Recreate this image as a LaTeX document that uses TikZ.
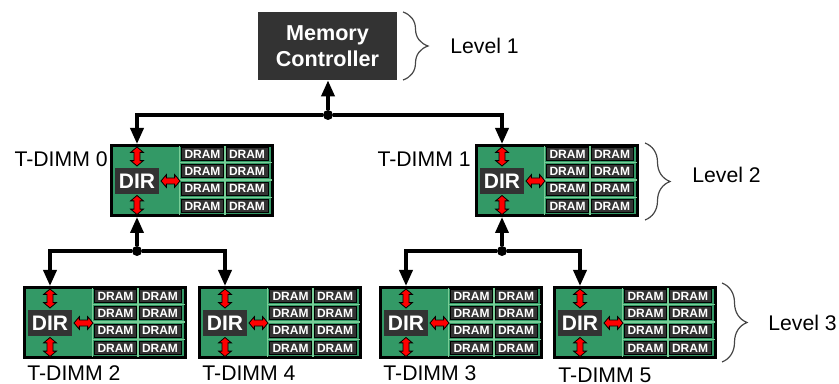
\documentclass[tikz,border=0pt]{standalone}
\usepackage{fontspec}
\setmainfont{Liberation Sans}
\usetikzlibrary{arrows.meta,shapes.arrows,decorations.pathreplacing}

\definecolor{boardgreen}{RGB}{51,153,102}
\definecolor{gridgreen}{RGB}{120,205,150}
\definecolor{chipgray}{RGB}{51,51,51}
\definecolor{bracegray}{RGB}{70,70,70}

\begin{document}
\begin{tikzpicture}[x=0.5pt,y=-0.5pt]
\tikzset{ >={Triangle[length=8pt,width=6.5pt]},
  mcbox/.style={fill=chipgray, text=white, font=\bfseries\fontsize{10.8}{13}\selectfont, align=center, minimum width=69.5pt, minimum height=34pt, inner sep=0pt},
  board/.style={fill=boardgreen, draw=black, line width=1.3pt, minimum width=80.7pt, minimum height=35.2pt, inner sep=0pt},
  gridline/.style={draw=gridgreen, line width=0.7pt},
  dirbox/.style={fill=chipgray, text=white, font=\bfseries\fontsize{10.5}{12}\selectfont, minimum width=22pt, minimum height=13pt, inner sep=0pt},
  dram/.style={fill=chipgray, draw=black, line width=0.5pt, text=white, font=\bfseries\fontsize{6}{6}\selectfont, minimum width=21pt, minimum height=6.5pt, inner sep=0pt},
  redarrow/.style={double arrow, fill=red, draw=black, line width=0.4pt, minimum height=9.5pt, double arrow head extend=1.7pt, double arrow tip angle=100, inner sep=1.3pt},
  link/.style={line width=1.8pt, ->},
  dot/.style={circle, fill=black, minimum size=5pt, inner sep=0pt},
  dimmname/.style={font=\fontsize{10.6}{12}\selectfont, inner sep=0pt},
  lvlbrace/.style={draw=bracegray, line width=0.6pt, decorate, decoration={brace, amplitude=12.5pt}},
}
\useasboundingbox (0,0) rectangle (839,384);
%\draw [lightgray, dashed](0,0) grid[step=20] (839,384);

\node [mcbox] (mc) at (327.5,46) {Memory\\Controller};

% the six boards
\foreach \b/\bx/\by in {t0/110/144, t1/475/144, t2/23/286, t4/198/286, t3/379/286, t5/553/286}{
  \begin{scope}[shift={(\bx,\by)}]
    \node [board] (\b) at (82,36.5) {};
    \draw [gridline] (69.5,2) -- (69.5,71) (115,2) -- (115,71);
    \foreach \gy in {18.5,36,53.5}
      \draw [gridline] (69.5,\gy) -- (162,\gy);
    \node [dirbox] (\b-dir) at (27,37) {DIR};
    \node [redarrow, shape border rotate=90] (\b-up) at (27,12.5) {};
    \node [redarrow, shape border rotate=90] (\b-dn) at (27,61) {};
    \node [redarrow] (\b-lr) at (60.5,37) {};
    \foreach \r/\ry in {0/10,1/27.3,2/44.7,3/62}
      \foreach \c/\cx in {0/92.5,1/137}
        \node [dram] (\b-\r\c) at (\cx,\ry) {DRAM};
    \coordinate (\b-in) at (27,0);
    \coordinate (\b-out) at (27,73);
  \end{scope}
}

% junctions
\node [dot] (j0) at (328,115) {};
\node [dot] (j1) at (137,251) {};
\node [dot] (j2) at (502,251) {};

\draw [link] (j0) -- (j0 |- mc.south);
\draw [link] (j0) -| (t0-in);
\draw [link] (j0) -| (t1-in);

\draw [link] (j1) -- (t0-out);
\draw [link] (j1) -| (t2-in);
\draw [link] (j1) -| (t4-in);

\draw [link] (j2) -- (t1-out);
\draw [link] (j2) -| (t3-in);
\draw [link] (j2) -| (t5-in);

\node [dimmname, anchor=east] (n0) at (108,159.5) {T-DIMM 0};
\node [dimmname, anchor=east] (n1) at (471,159.5) {T-DIMM 1};
\node [dimmname, anchor=west] (n2) at (27,373) {T-DIMM 2};
\node [dimmname, anchor=west] (n4) at (202,373) {T-DIMM 4};
\node [dimmname, anchor=west] (n3) at (383,373) {T-DIMM 3};
\node [dimmname, anchor=west] (n5) at (558,375) {T-DIMM 5};

% levels
\draw [lvlbrace] (403,12) -- (403,80);
\draw [lvlbrace] (645,143) -- (645,220);
\draw [lvlbrace] (722,283) -- (722,362);
\node [dimmname, anchor=west] (lv1) at (450,45.5) {Level 1};
\node [dimmname, anchor=west] (lv2) at (692,175) {Level 2};
\node [dimmname, anchor=west] (lv3) at (768,323) {Level 3};

\end{tikzpicture}
\end{document}
